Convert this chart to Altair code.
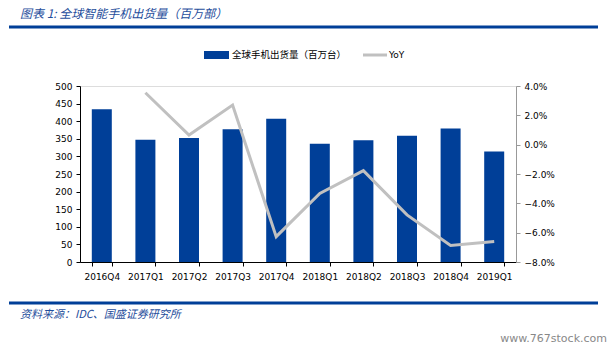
import altair as alt
import pandas as pd

quarters = ["2016Q4", "2017Q1", "2017Q2", "2017Q3", "2017Q4",
            "2018Q1", "2018Q2", "2018Q3", "2018Q4", "2019Q1"]
shipments = [434, 347, 352, 377, 407, 336, 346, 359, 379, 314]
yoy = [None, 0.0354, 0.0066, 0.027, -0.0627, -0.0332, -0.0177, -0.0479, -0.0688, -0.066]

title_text = "图表 1:  全球智能手机出货量（百万部）"
bar_label = "全球手机出货量（百万台）"
line_label = "YoY"
source_text = "资料来源：IDC、国盛证券研究所"
watermark = "www.767stock.com"

df = pd.DataFrame({"q": quarters, "ship": shipments, "yoy": yoy})
df_line = df.dropna(subset=["yoy"])

BLUE = "#003f98"
GRAY = "#c0c0c0"
CJK = "Noto Sans CJK SC"
LAT = "DejaVu Sans"

x_enc = alt.X("q:N", sort=quarters, title=None,
              scale=alt.Scale(paddingInner=0.54, paddingOuter=0.27),
              axis=alt.Axis(labelAngle=0, labelFont=LAT, labelFontSize=9, labelColor="#000",
                            tickBand="extent", domainColor="#000", tickColor="#000",
                            tickSize=4, labelPadding=6))

bars = alt.Chart(df).mark_bar(color=BLUE, size=20).encode(
    x=x_enc,
    y=alt.Y("ship:Q", title=None,
            scale=alt.Scale(domain=[0, 500], nice=False),
            axis=alt.Axis(values=list(range(0, 501, 50)), grid=False, labelFont=LAT,
                          labelFontSize=9, labelColor="#000", domainColor="#000",
                          tickColor="#000", tickSize=4, labelPadding=4))
)

line = alt.Chart(df_line).mark_line(color=GRAY, strokeWidth=3).encode(
    x=alt.X("q:N", sort=quarters),
    y=alt.Y("yoy:Q", title=None,
            scale=alt.Scale(domain=[-0.08, 0.04], nice=False),
            axis=alt.Axis(orient="right", format=".1%", values=[-0.08, -0.06, -0.04, -0.02, 0, 0.02, 0.04],
                          grid=False, labelFont=LAT, labelFontSize=9, labelColor="#000",
                          domainColor="#999", tickColor="#999", tickSize=4, labelPadding=4))
)

one = alt.Data(values=[{"a": 1}])

def txt(s, x, y, size, color="#000", font=CJK, italic=False, align="left"):
    return alt.Chart(one).mark_text(
        align=align, baseline="middle", fontSize=size, font=font, color=color,
        fontStyle="italic" if italic else "normal"
    ).encode(x=alt.value(x), y=alt.value(y), text=alt.value(s))

def hrule(x1, x2, y, color, w):
    return alt.Chart(one).mark_rule(color=color, strokeWidth=w).encode(
        x=alt.value(x1), x2=alt.value(x2), y=alt.value(y))

title = txt(title_text, -60, -72, 12, color="#1f4e9c", italic=True)
top_line = hrule(-71, 518, -59, BLUE, 3)
bot_line = hrule(-71, 518, 217, BLUE, 3)
source = txt(source_text, -60, 229, 11, color="#1f4e9c", italic=True)
wm = txt(watermark, 527, 253, 11, color="#888", font=LAT, align="right")

leg_rect = alt.Chart(one).mark_rect(color=BLUE).encode(
    x=alt.value(124), x2=alt.value(149), y=alt.value(-35), y2=alt.value(-27))
leg_t1 = txt(bar_label, 152, -31, 9.5)
leg_line = hrule(283, 307, -31, GRAY, 3)
leg_t2 = txt(line_label, 309, -31, 9, font=LAT)

chart = alt.layer(bars, line).resolve_scale(y="independent")
chart = alt.layer(chart, title, top_line, bot_line, source, wm, leg_rect, leg_t1, leg_line, leg_t2).properties(
    width=436, height=176,
    autosize=alt.AutoSizeParams(type="none"),
    padding={"left": 80, "top": 86, "right": 97, "bottom": 92}
).configure_view(stroke=None).configure(background="white")

chart.save("out.html", embed_options={"renderer": "svg", "actions": False})
